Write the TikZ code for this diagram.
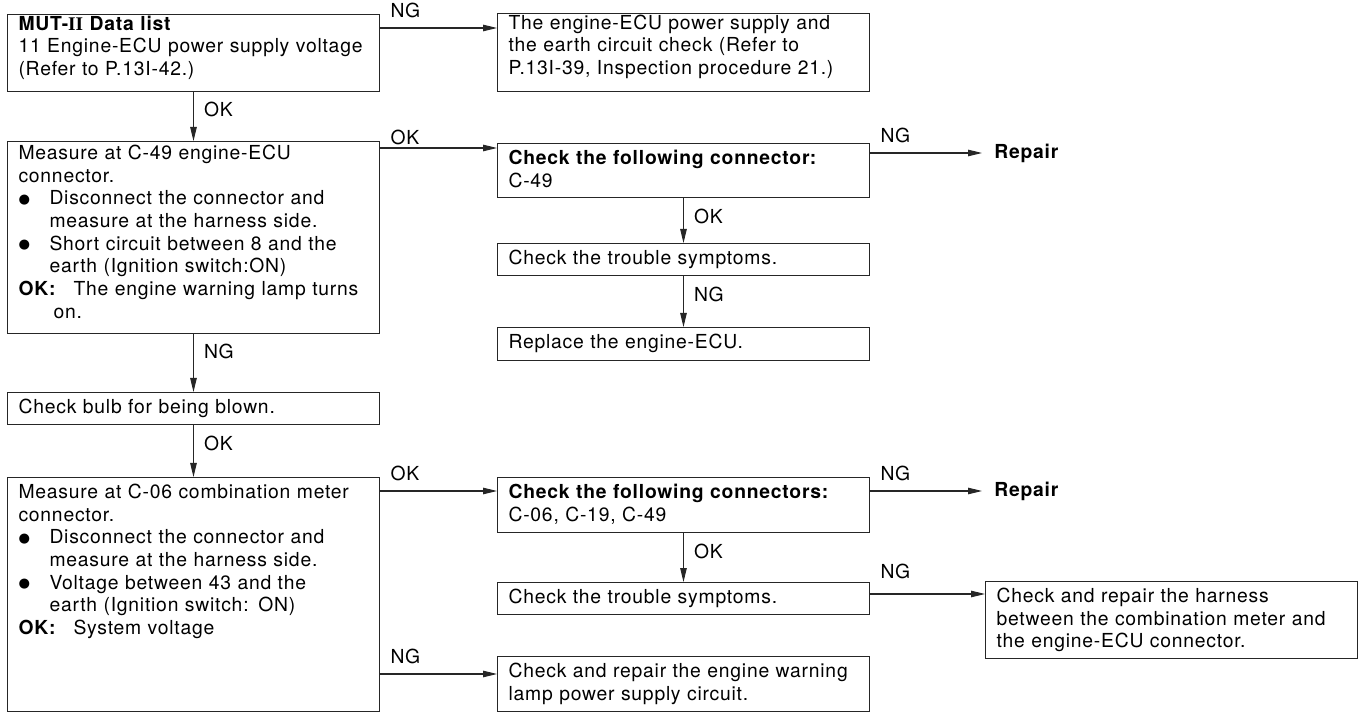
\documentclass[tikz,border=0pt]{standalone}
\usepackage{fontspec}
\setmainfont{TeX Gyre Heros}[LetterSpace=4]
\newfontfamily\romfont{Liberation Serif}
\newfontfamily\dotfont{DejaVu Sans}
\usetikzlibrary{arrows.meta, positioning}

\newcommand{\bitem}{\makebox[0.62cm][l]{\raisebox{0.8pt}{\fontsize{7.5pt}{7.5pt}\dotfont ●}}}
\newcommand{\bcont}{\hspace*{0.62cm}}
\newcommand{\okhead}[1]{\makebox[#1][l]{\textbf{OK:}}}

\begin{document}
\begin{tikzpicture}[
  x=0.02cm, y=-0.02cm,
  font=\fontsize{11pt}{12.9pt}\selectfont,
  box/.style={draw=black!85, line width=0.6pt, anchor=north west, align=left,
              text width=7cm, inner xsep=0.22cm, inner ysep=0pt, text height=0.42cm},
  arrow/.style={-{Triangle[length=0.28cm, width=0.13cm]}, draw=black!85, line width=0.6pt},
  hlbl/.style={anchor=south west, inner xsep=0.2cm, inner ysep=0.2cm},
  vlbl/.style={anchor=north west, inner xsep=0.2cm, inner ysep=0.2cm},
  repair/.style={anchor=west, inner xsep=0.24cm, font=\fontsize{11pt}{12.9pt}\selectfont\bfseries},
]
  \useasboundingbox (0,0) rectangle (1360,712);

  % left column
  \node[box, text height=0.31cm, text depth=1.23cm] (data) at (7,14)
    {\textbf{MUT-{\romfont II} Data list}\\11 Engine-ECU power supply voltage\\(Refer to P.13I-42.)};
  \node[box, text height=0.36cm, text depth=3.48cm] (meas49) at (7,141)
    {Measure at C-49 engine-ECU\\connector.\\
     \bitem Disconnect the connector and\\\bcont measure at the harness side.\\
     \bitem Short circuit between 8 and the\\\bcont earth (Ignition switch:ON)\\
     \okhead{1.1cm}The engine warning lamp turns\\\hspace*{0.7cm}on.};
  \node[box, text depth=0.22cm] (bulb) at (7,392) {Check bulb for being blown.};
  \node[box, text depth=4.26cm] (meas06) at (7,477)
    {Measure at C-06 combination meter\\connector.\\
     \bitem Disconnect the connector and\\\bcont measure at the harness side.\\
     \bitem Voltage between 43 and the\\\bcont earth (Ignition switch: ON)\\
     \okhead{1.1cm}System voltage};

  % middle column
  \node[box, text height=0.31cm, text depth=1.25cm] (ecupwr) at (497,13)
    {The engine-ECU power supply and\\the earth circuit check (Refer to\\P.13I-39, Inspection procedure 21.)};
  \node[box, text depth=0.66cm] (conn49) at (497,143)
    {\textbf{Check the following connector:}\\C-49};
  \node[box, text depth=0.22cm] (symp49) at (497,243) {Check the trouble symptoms.};
  \node[box, text depth=0.24cm] (repecu) at (497,327) {Replace the engine-ECU.};
  \node[box, text depth=0.68cm] (conn06) at (497,477)
    {\textbf{Check the following connectors:}\\C-06, C-19, C-49};
  \node[box, text depth=0.22cm] (symp06) at (497,582) {Check the trouble symptoms.};
  \node[box, text depth=0.68cm] (lamp) at (497,656)
    {Check and repair the engine warning\\lamp power supply circuit.};

  % right column
  \node[repair] (rep49) at (982,153) {Repair};
  \node[repair] (rep06) at (982,491) {Repair};
  \node[box, text depth=1.12cm] (harness) at (985,581)
    {Check and repair the harness\\between the combination meter and\\the engine-ECU connector.};

  \draw[arrow] (data.east |- 0,28) -- node[hlbl, pos=0] {NG} (ecupwr.west |- 0,28);
  \draw[arrow] (data.south) -- node[vlbl, pos=0] {OK} (meas49.north);
  \draw[arrow] (meas49.east |- 0,148) -- node[hlbl, pos=0, inner ysep=0.06cm] {OK} (conn49.west |- 0,148);
  \draw[arrow] (conn49.east |- rep49.west) -- node[hlbl, pos=0] {NG} (rep49.west);
  \draw[arrow] (conn49.south) -- node[vlbl, pos=0] {OK} (symp49.north);
  \draw[arrow] (symp49.south) -- node[vlbl, pos=0] {NG} (repecu.north);
  \draw[arrow] (meas49.south) -- node[vlbl, pos=0] {NG} (bulb.north);
  \draw[arrow] (bulb.south) -- node[vlbl, pos=0] {OK} (meas06.north);
  \draw[arrow] (meas06.east |- 0,491) -- node[hlbl, pos=0] {OK} (conn06.west |- 0,491);
  \draw[arrow] (conn06.east |- rep06.west) -- node[hlbl, pos=0] {NG} (rep06.west);
  \draw[arrow] (conn06.south) -- node[vlbl, pos=0] {OK} (symp06.north);
  \draw[arrow] (symp06.east |- 0,594) -- node[hlbl, pos=0, inner ysep=0.3cm] {NG} (harness.west |- 0,594);
  \draw[arrow] (meas06.east |- 0,674) -- node[hlbl, pos=0] {NG} (lamp.west |- 0,674);
\end{tikzpicture}
\end{document}
